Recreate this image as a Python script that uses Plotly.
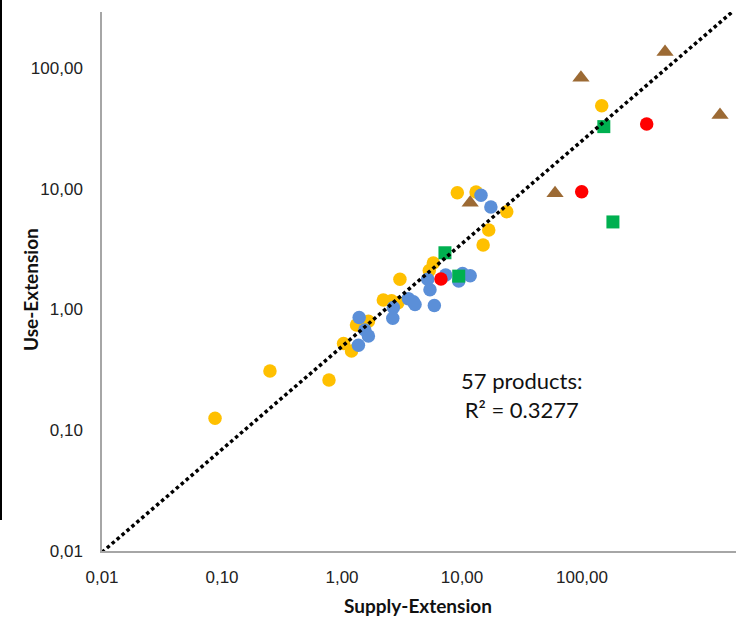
import numpy as np
import plotly.graph_objects as go

# ---- data ----
yellow_x = [146, 9.14, 13.1, 23.6, 16.7, 15.0, 5.77, 5.34, 3.04, 2.21, 2.59, 2.93,
            1.66, 1.32, 1.03, 1.20, 0.779, 0.251, 0.0875]
yellow_y = [48.7, 9.27, 9.40, 6.46, 4.55, 3.42, 2.43, 2.10, 1.78, 1.20, 1.18, 1.14,
            0.80, 0.745, 0.523, 0.453, 0.261, 0.310, 0.1256]

blue_x = [14.4, 17.4, 10.1, 11.7, 9.39, 7.31, 5.18, 5.41, 5.88, 3.57, 3.93, 4.06,
          2.68, 2.65, 1.39, 1.55, 1.66, 1.37]
blue_y = [8.83, 7.06, 1.99, 1.90, 1.72, 1.93, 1.78, 1.46, 1.08, 1.23, 1.16, 1.10,
          1.04, 0.845, 0.859, 0.676, 0.604, 0.505]

brown_x = [492, 98, 1413, 59.6, 11.7]
brown_y = [136, 83, 40.8, 9.17, 7.67]

green_x = [152, 181, 7.21, 9.39]
green_y = [32.7, 5.31, 2.95, 1.89]

red_x = [346, 99.4, 6.68]
red_y = [34.4, 9.46, 1.79]

# power trendline y = a * x^b
trend_a = 0.494
trend_b = 0.852

tick_vals = [0.01, 0.1, 1, 10, 100]
tick_text = ["0,01", "0,10", "1,00", "10,00", "100,00"]

# ---- figure ----
W, H = 736, 618
ML, MR, MT, MB = 102, 0, 12, 67
pw, ph = W - ML - MR, H - MT - MB
x_dec, y_dec = 120.0, 120.75
xr = [-2, -2 + pw / x_dec]
yr = [-2, -2 + ph / y_dec]

fig = go.Figure()

def add(xs, ys, color, symbol, size):
    fig.add_trace(go.Scatter(x=xs, y=ys, mode="markers",
                             marker=dict(color=color, symbol=symbol, size=size,
                                         line=dict(width=0)),
                             showlegend=False, hoverinfo="skip"))

add(yellow_x, yellow_y, "#FFC000", "circle", 13.5)
add(blue_x, blue_y, "#5B8FD8", "circle", 13.5)
add(brown_x, brown_y, "#9C6A34", "triangle-up", 15)
add(green_x, green_y, "#00B050", "square", 13)
add(red_x, red_y, "#FF0000", "circle", 13.5)

tx = np.logspace(xr[0], xr[1], 200)
ty = trend_a * tx ** trend_b
fig.add_trace(go.Scatter(x=tx, y=ty, mode="lines",
                         line=dict(color="black", width=3.5, dash="3.5px,3px"),
                         showlegend=False, hoverinfo="skip"))

axis_common = dict(type="log", showgrid=False, zeroline=False, showline=True,
                   linecolor="#A6A6A6", linewidth=1.5, ticks="",
                   tickvals=tick_vals, ticktext=tick_text,
                   tickfont=dict(family="Liberation Sans", size=17, color="#222222"))

fig.update_layout(
    width=W, height=H,
    margin=dict(l=ML, r=MR, t=MT, b=MB),
    paper_bgcolor="white", plot_bgcolor="white",
    xaxis=dict(range=xr, ticklabelstandoff=10, **axis_common),
    yaxis=dict(range=yr, ticklabelstandoff=14, **axis_common),
    annotations=[
        dict(text="57 products:<br>R² = 0.3277", xref="paper", yref="paper",
             x=(522 - ML) / pw, y=(551 - 395) / ph, showarrow=False,
             font=dict(family="Lato", size=22, color="#111111"),
             xanchor="center", yanchor="middle", align="center"),
        dict(text="<b>Supply-Extension</b>", xref="paper", yref="paper",
             x=(418 - ML) / pw, y=(551 - 606) / ph, showarrow=False,
             font=dict(family="Lato", size=19, color="#111111"),
             xanchor="center", yanchor="middle"),
        dict(text="<b>Use-Extension</b>", xref="paper", yref="paper",
             x=(30 - ML) / pw, y=(551 - 290) / ph, showarrow=False, textangle=-90,
             font=dict(family="Lato", size=19, color="#111111"),
             xanchor="center", yanchor="middle"),
    ],
    shapes=[dict(type="line", xref="paper", yref="paper",
                 x0=(1 - ML) / pw, x1=(1 - ML) / pw,
                 y0=(551 - 0) / ph, y1=(551 - 520) / ph,
                 line=dict(color="black", width=2))],
)

fig.write_html("out.html",
               config={"displayModeBar": False},
               post_script="document.body.style.margin='0';"
                           "document.body.style.overflow='hidden';")
